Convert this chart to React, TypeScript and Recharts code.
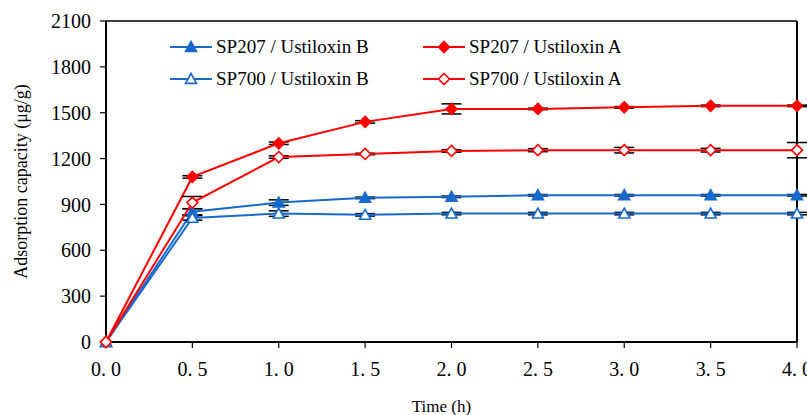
import React from 'react';
import { LineChart, Line, XAxis, YAxis, ErrorBar, ReferenceLine } from 'recharts';

const times = [0, 0.5, 1, 1.5, 2, 2.5, 3, 3.5, 4];
const sp207B = [0, 852, 912, 943, 950, 960, 960, 960, 960];
const sp207BErr = [0, 20, 18, 5, 5, 5, 5, 5, 5];
const sp700B = [0, 812, 840, 832, 840, 840, 840, 840, 840];
const sp700BErr = [0, 15, 18, 8, 8, 8, 8, 8, 8];
const sp207A = [0, 1080, 1300, 1440, 1525, 1525, 1535, 1545, 1545];
const sp207AErr = [0, 8, 8, 8, 33, 5, 5, 5, 5];
const sp700A = [0, 912, 1210, 1230, 1250, 1255, 1255, 1255, 1255];
const sp700AErr = [0, 40, 8, 5, 8, 10, 18, 12, 50];

const xTicks = [0, 0.5, 1, 1.5, 2, 2.5, 3, 3.5, 4];
const yTicks = [0, 300, 600, 900, 1200, 1500, 1800, 2100];

const BLUE = '#1769CC';
const RED = '#FF0000';
const FONT = '"Liberation Serif", "Times New Roman", serif';

type Shape = 'triangle' | 'diamond';
interface Series { key: string; err: string; name: string; color: string; shape: Shape; filled: boolean; values: number[]; errors: number[]; }

const series: Series[] = [
  { key: 'b207', err: 'e207b', name: 'SP207 / Ustiloxin B', color: BLUE, shape: 'triangle', filled: true, values: sp207B, errors: sp207BErr },
  { key: 'b700', err: 'e700b', name: 'SP700 / Ustiloxin B', color: BLUE, shape: 'triangle', filled: false, values: sp700B, errors: sp700BErr },
  { key: 'a207', err: 'e207a', name: 'SP207 / Ustiloxin A', color: RED, shape: 'diamond', filled: true, values: sp207A, errors: sp207AErr },
  { key: 'a700', err: 'e700a', name: 'SP700 / Ustiloxin A', color: RED, shape: 'diamond', filled: false, values: sp700A, errors: sp700AErr },
];

const legendOrder = ['b207', 'a207', 'b700', 'a700'];

const data = times.map((t, i) => {
  const row: Record<string, number> = { t };
  series.forEach((s) => {
    row[s.key] = s.values[i];
    row[s.err] = s.errors[i];
  });
  return row;
});

function Marker({ cx, cy, shape, filled, color }: { cx: number; cy: number; shape: Shape; filled: boolean; color: string }) {
  const fill = filled ? color : '#fff';
  if (shape === 'triangle') {
    const r = 5.5;
    const pts = `${cx},${cy - r} ${cx + r},${cy + r * 0.8} ${cx - r},${cy + r * 0.8}`;
    return <polygon points={pts} fill={fill} stroke={color} strokeWidth={1.6} />;
  }
  const r = 5.5;
  const pts = `${cx},${cy - r} ${cx + r},${cy} ${cx},${cy + r} ${cx - r},${cy}`;
  return <polygon points={pts} fill={fill} stroke={color} strokeWidth={1.6} />;
}

const makeDot = (s: Series) => (props: any) => {
  const { cx, cy, index } = props;
  if (cx == null || cy == null) return <g key={`${s.key}-${index}`} />;
  return (
    <g key={`${s.key}-${index}`}>
      <Marker cx={cx} cy={cy} shape={s.shape} filled={s.filled} color={s.color} />
    </g>
  );
};

const fmtX = (v: number) => v.toFixed(1).replace('.', '. ');

function YTitle(props: any) {
  const vb = props.viewBox || {};
  const x = (vb.x ?? 0) + 21;
  const y = (vb.y ?? 0) + (vb.height ?? 0) / 2;
  return (
    <text x={x} y={y} transform={`rotate(-90 ${x} ${y})`} textAnchor="middle" dominantBaseline="central"
      fontFamily={FONT} fontSize={18} fill="#000">
      Adsorption capacity (μg/g)
    </text>
  );
}

function XTitle(props: any) {
  const vb = props.viewBox || {};
  const x = (vb.x ?? 0) + (vb.width ?? 0) / 2 - 10;
  const y = 406;
  return (
    <text x={x} y={y} textAnchor="middle" dominantBaseline="central" fontFamily={FONT} fontSize={17} fill="#000">
      Time (h)
    </text>
  );
}

function LegendOverlay() {
  const cols = [170, 423];
  const rows = [47, 79];
  return (
    <div style={{ position: 'absolute', left: 0, top: 0, width: 807, height: 415, pointerEvents: 'none' }}>
      {legendOrder.map((k, i) => {
        const s = series.find((q) => q.key === k)!;
        const x = cols[i % 2];
        const y = rows[Math.floor(i / 2)];
        return (
          <div key={k} style={{ position: 'absolute', left: x, top: y - 12, height: 24, display: 'flex', alignItems: 'center' }}>
            <svg width={42} height={24} style={{ display: 'block' }}>
              <line x1={0} y1={12} x2={42} y2={12} stroke={s.color} strokeWidth={2} />
              <Marker cx={21} cy={12} shape={s.shape} filled={s.filled} color={s.color} />
            </svg>
            <span style={{ marginLeft: 4, fontFamily: FONT, fontSize: 19, color: '#000', whiteSpace: 'nowrap', lineHeight: '24px' }}>
              {s.name}
            </span>
          </div>
        );
      })}
    </div>
  );
}

export default function App() {
  return (
    <div style={{ position: 'absolute', left: 0, top: 0, width: 807, height: 415, background: '#fff' }}>
      <LineChart width={807} height={415} data={data} margin={{ top: 21, right: 10, bottom: 0, left: 0 }}>
        <XAxis
          type="number"
          dataKey="t"
          domain={[0, 4]}
          ticks={xTicks}
          tickFormatter={fmtX}
          interval={0}
          height={73}
          axisLine={{ stroke: '#000', strokeWidth: 2 }}
          tickLine={{ stroke: '#000', strokeWidth: 1.2 }}
          tickSize={6}
          tickMargin={14}
          tick={{ fill: '#000', fontFamily: FONT, fontSize: 20 }}
          label={<XTitle />}
        />
        <YAxis
          type="number"
          domain={[0, 2100]}
          ticks={yTicks}
          interval={0}
          width={106}
          axisLine={{ stroke: '#000', strokeWidth: 2 }}
          tickLine={{ stroke: '#000', strokeWidth: 1.2 }}
          tickSize={6}
          tickMargin={9}
          tick={{ fill: '#000', fontFamily: FONT, fontSize: 20 }}
          label={<YTitle />}
        />
        <ReferenceLine y={2100} stroke="#000" strokeWidth={1.5} />
        <ReferenceLine x={4} stroke="#000" strokeWidth={2} />
        {series.map((s) => (
          <Line
            key={s.key}
            type="linear"
            dataKey={s.key}
            name={s.name}
            stroke={s.color}
            strokeWidth={2}
            dot={makeDot(s)}
            activeDot={false}
            isAnimationActive={false}
          >
            <ErrorBar dataKey={s.err} direction="y" width={10} stroke="#000" strokeWidth={1.5} />
          </Line>
        ))}
      </LineChart>
      <LegendOverlay />
    </div>
  );
}
